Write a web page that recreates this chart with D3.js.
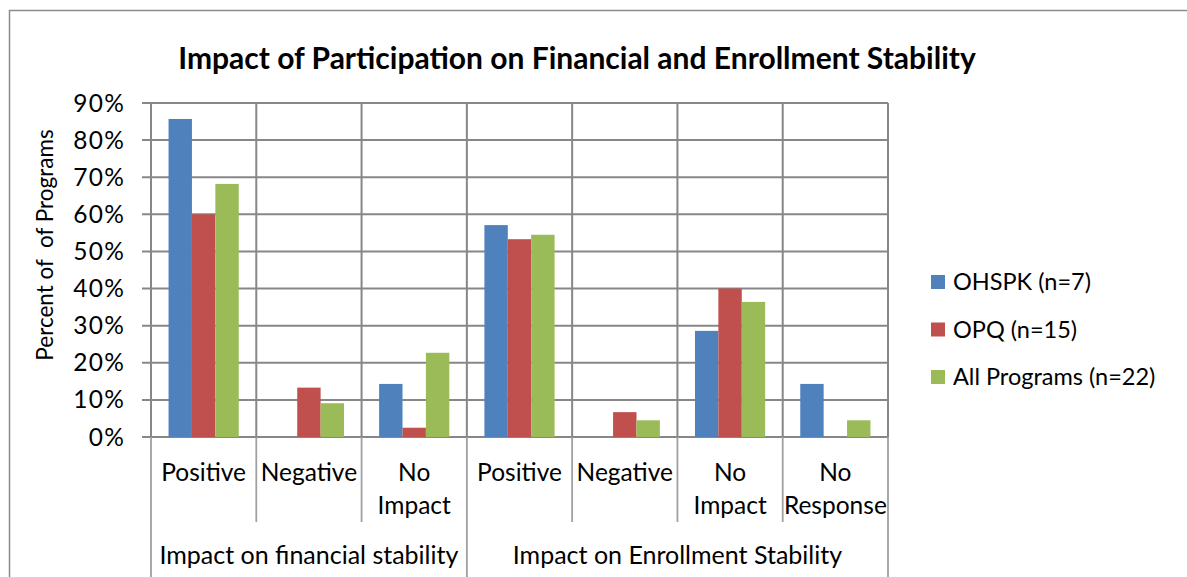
<!DOCTYPE html>
<html>
<head>
<meta charset="utf-8">
<script src="https://cdn.jsdelivr.net/npm/d3@7"></script>
<style>
  body { margin: 0; background: #fff; }
  svg { display: block; font-family: Lato, "Noto Sans", sans-serif; }
</style>
</head>
<body>
<svg id="chart" width="1187" height="577"></svg>
<script>
const title = 'Impact of Participation on Financial and Enrollment Stability';
const groupLabels = ['Impact on financial stability', 'Impact on Enrollment Stability'];
const groupStarts = [0, 3, 7];
const categoryLabels = [['Positive'], ['Negative'], ['No', 'Impact'], ['Positive'], ['Negative'], ['No', 'Impact'], ['No', 'Response']];
const seriesNames = ['OHSPK (n=7)', 'OPQ (n=15)', 'All Programs (n=22)'];
const ohspk = [85.7, 0, 14.3, 57.1, 0, 28.6, 14.3];
const opq = [60, 13.3, 2.5, 53.3, 6.7, 40, 0];
const allPrograms = [68.2, 9.1, 22.7, 54.5, 4.5, 36.4, 4.5];
const yTicks = [0, 10, 20, 30, 40, 50, 60, 70, 80, 90];
const colors = ['#4F81BD', '#C0504D', '#9BBB59'];

const svg = d3.select('#chart');
const margin = { top: 103, right: 299, bottom: 140, left: 151 };
const width = 1187, height = 577;
const series = [ohspk, opq, allPrograms];
const gridColor = '#878787';

// chart border
svg.append('rect')
  .attr('x', 9.5).attr('y', 10.5)
  .attr('width', 1300).attr('height', 700)
  .attr('fill', 'none').attr('stroke', '#8c8c8c').attr('stroke-width', 1.5);

svg.append('text')
  .attr('x', 577).attr('y', 58)
  .attr('text-anchor', 'middle').attr('dy', '0.35em')
  .attr('font-size', 30).attr('font-weight', 'bold')
  .text(title);

const x0 = d3.scaleBand()
  .domain(d3.range(categoryLabels.length))
  .range([margin.left, width - margin.right]);
const x1 = d3.scaleBand()
  .domain(d3.range(series.length))
  .range([0, x0.bandwidth()])
  .paddingOuter(0.75);
const y = d3.scaleLinear()
  .domain([0, 90])
  .range([height - margin.bottom, margin.top]);

const g = svg.append('g');

// horizontal gridlines + y ticks
g.selectAll('line.hgrid')
  .data(yTicks)
  .enter()
  .append('line')
  .attr('class', 'hgrid')
  .attr('x1', margin.left - 9)
  .attr('x2', width - margin.right)
  .attr('y1', d => y(d))
  .attr('y2', d => y(d))
  .attr('stroke', gridColor)
  .attr('stroke-width', 2);

// vertical gridlines between categories
const bounds = d3.range(categoryLabels.length + 1);
const bx = i => i < categoryLabels.length ? x0(i) : x0(i - 1) + x0.bandwidth();
g.selectAll('line.vgrid')
  .data(bounds)
  .enter()
  .append('line')
  .attr('class', 'vgrid')
  .attr('x1', bx).attr('x2', bx)
  .attr('y1', y(90))
  .attr('y2', y(0))
  .attr('stroke', gridColor)
  .attr('stroke-width', 2);

// category axis divider lines below the axis
g.selectAll('line.cdiv')
  .data(bounds)
  .enter()
  .append('line')
  .attr('class', 'cdiv')
  .attr('x1', bx).attr('x2', bx)
  .attr('y1', y(0))
  .attr('y2', d => groupStarts.includes(d) ? height : y(0) + 85)
  .attr('stroke', '#a0a0a0')
  .attr('stroke-width', 1.8);

// y tick labels
g.selectAll('text.ytick')
  .data(yTicks)
  .enter()
  .append('text')
  .attr('class', 'ytick')
  .attr('x', margin.left - 26)
  .attr('y', d => y(d))
  .attr('dy', '0.35em')
  .attr('text-anchor', 'end')
  .attr('font-size', 24.5)
  .attr('letter-spacing', 1.2)
  .text(d => `${d}%`);

svg.append('text')
  .attr('transform', `translate(45,${(y(0) + y(90)) / 2 - 25}) rotate(-90)`)
  .attr('text-anchor', 'middle')
  .attr('dy', '0.35em')
  .attr('font-size', 22.5)
  .style('white-space', 'pre')
  .text('Percent of  of Programs');

// bars
series.forEach((vals, si) => {
  g.selectAll(`rect.s${si}`)
    .data(vals)
    .enter()
    .append('rect')
    .attr('class', `s${si}`)
    .attr('x', (d, i) => x0(i) + x1(si))
    .attr('y', d => y(d))
    .attr('width', x1.bandwidth())
    .attr('height', d => y(0) - y(d))
    .attr('fill', colors[si]);
});

// category labels
categoryLabels.forEach((lines, i) => {
  const t = g.append('text')
    .attr('text-anchor', 'middle')
    .attr('font-size', 24.5);
  lines.forEach((ln, li) => {
    t.append('tspan')
      .attr('x', x0(i) + x0.bandwidth() / 2)
      .attr('y', 472 + li * 33)
      .attr('dy', '0.35em')
      .text(ln);
  });
});

// group labels
groupLabels.forEach((lab, gi) => {
  const a = bx(groupStarts[gi]), b = bx(groupStarts[gi + 1]);
  g.append('text')
    .attr('x', (a + b) / 2)
    .attr('y', 555)
    .attr('dy', '0.35em')
    .attr('text-anchor', 'middle')
    .attr('font-size', 25)
    .text(lab);
});

// legend
const legend = svg.append('g').attr('transform', 'translate(931,282)');
const lg = legend.selectAll('g')
  .data(seriesNames)
  .enter()
  .append('g')
  .attr('transform', (d, i) => `translate(0,${i * 47.5})`);
lg.append('rect')
  .attr('x', 0).attr('y', -7)
  .attr('width', 14).attr('height', 14)
  .attr('fill', (d, i) => colors[i]);
lg.append('text')
  .attr('x', 22)
  .attr('dy', '0.35em')
  .attr('font-size', 23.5)
  .text(d => d);
</script>
</body>
</html>
